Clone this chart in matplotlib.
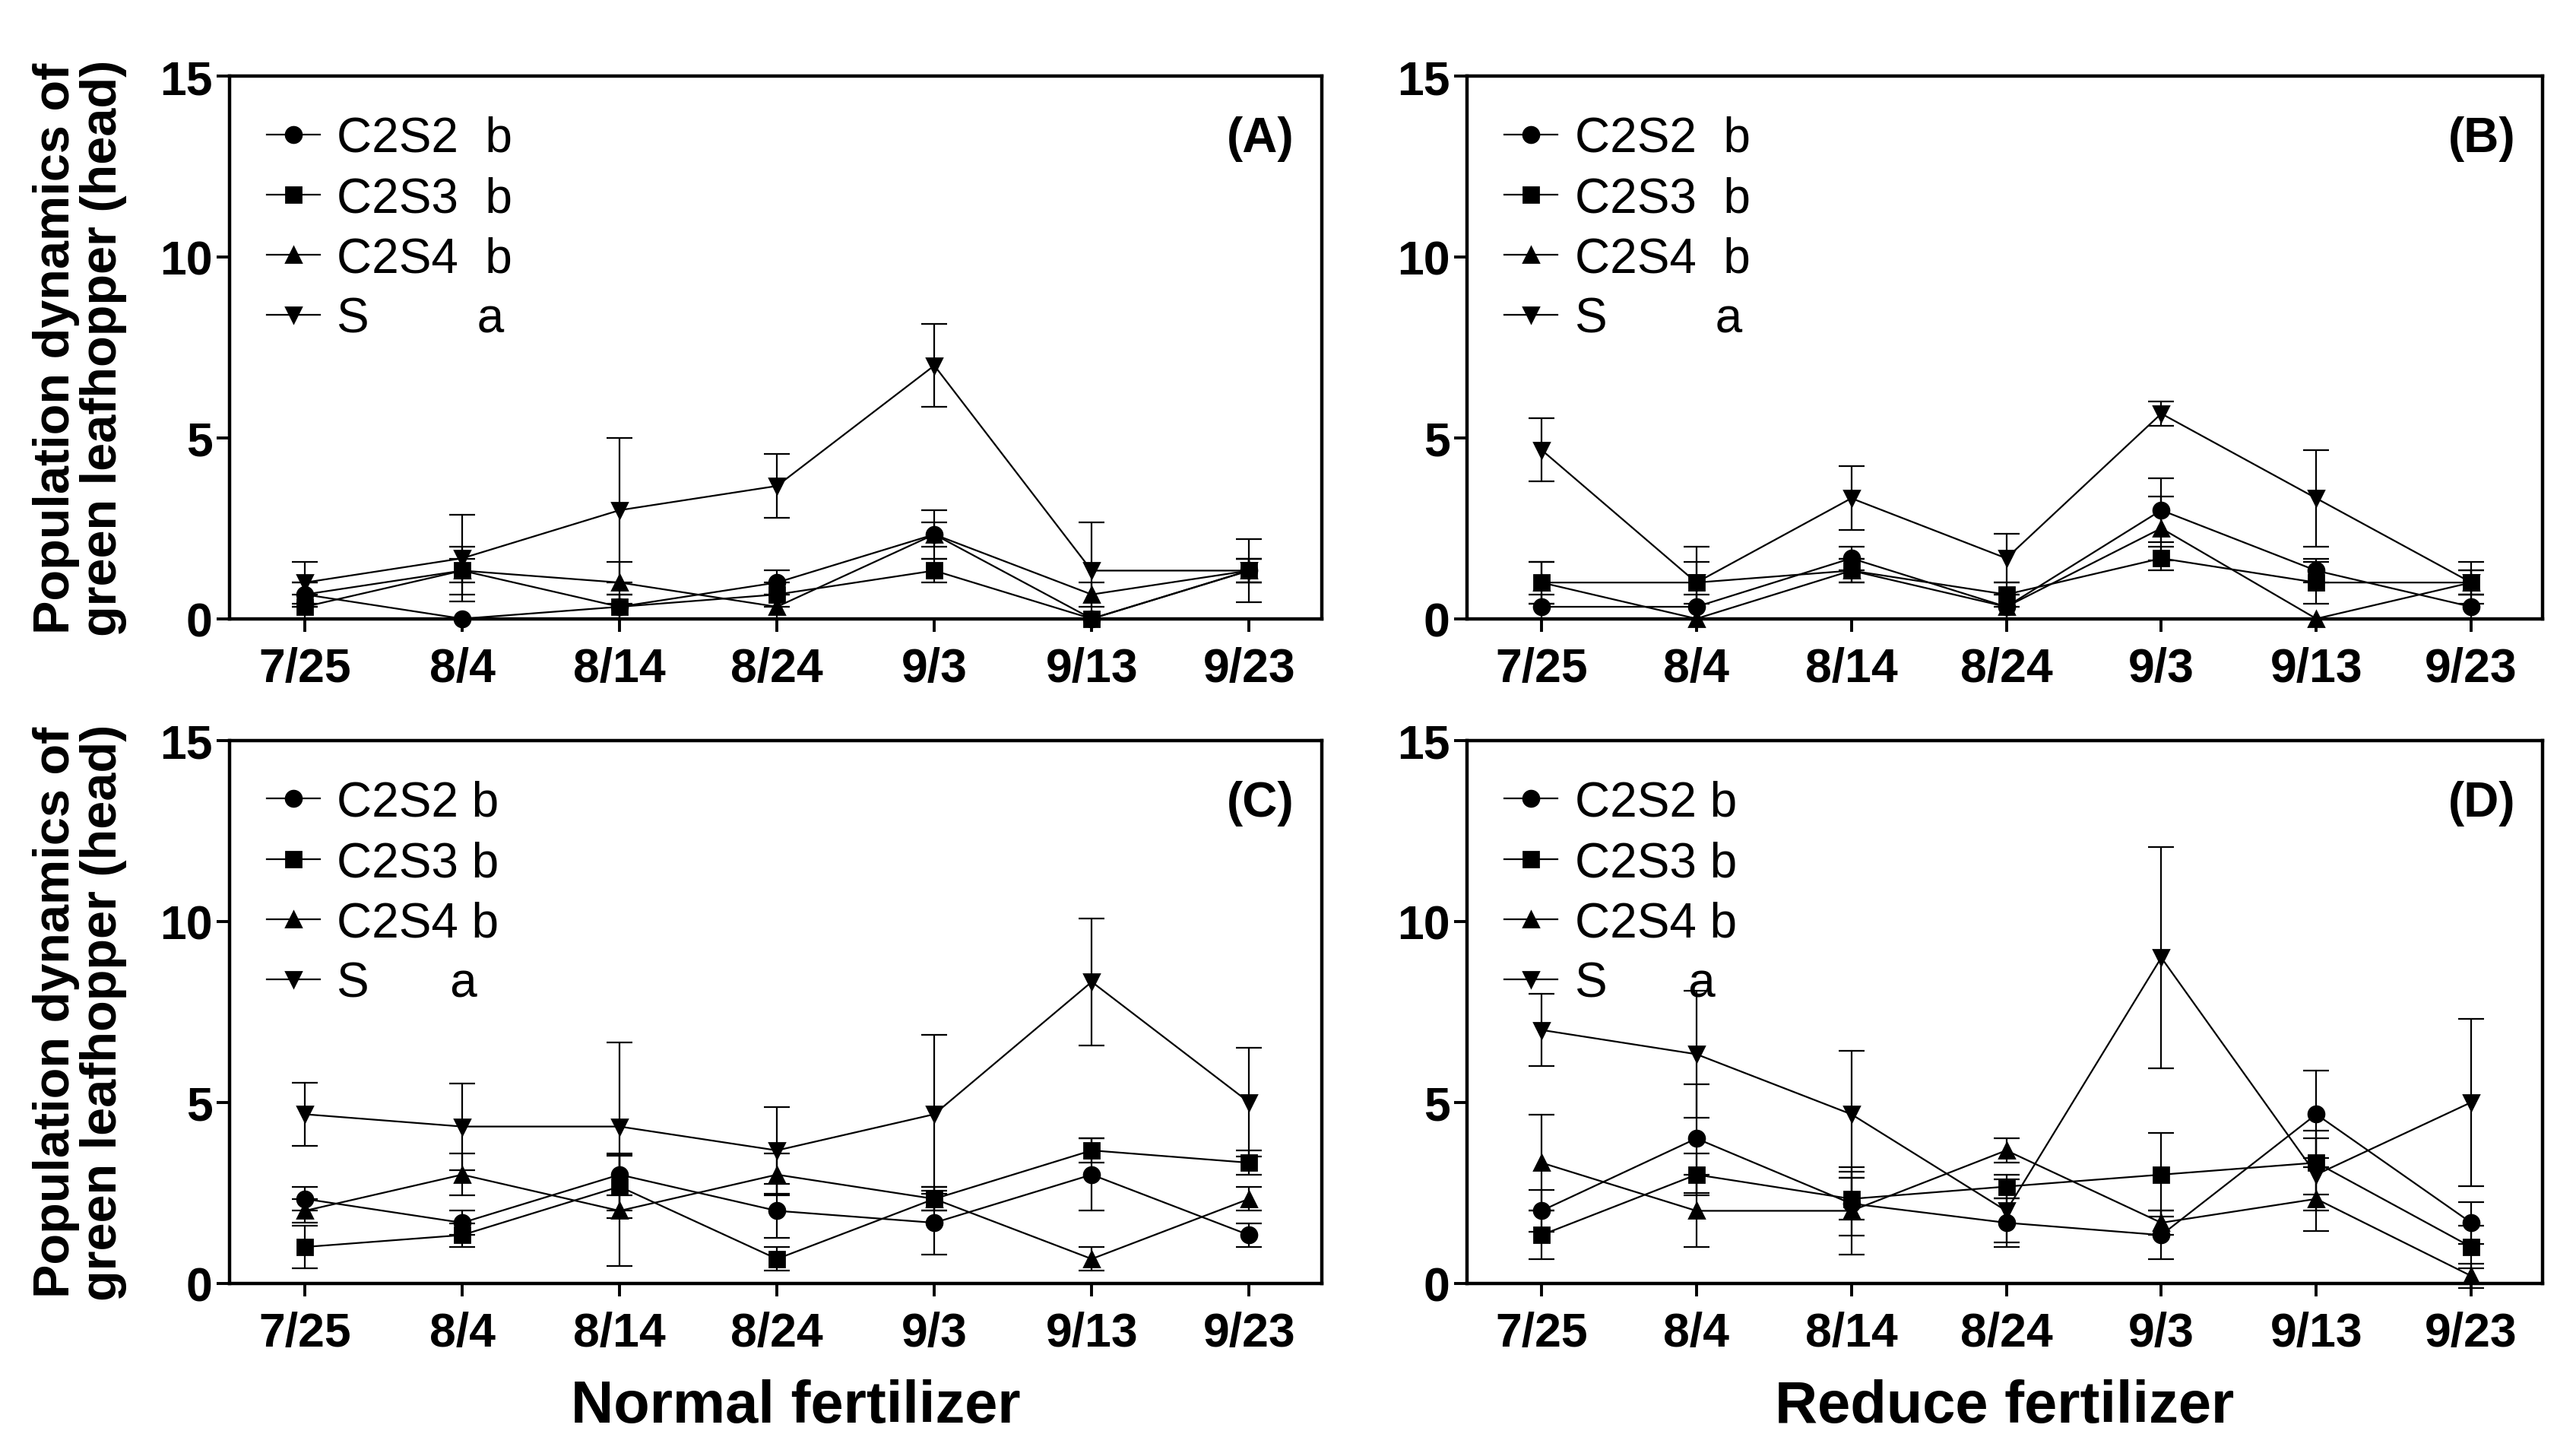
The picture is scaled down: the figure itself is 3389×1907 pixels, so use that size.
import matplotlib
matplotlib.use("Agg")
import matplotlib.pyplot as plt
from matplotlib.lines import Line2D

plt.rcParams['font.family'] = ['Liberation Sans', 'DejaVu Sans']

dates = ["7/25", "8/4", "8/14", "8/24", "9/3", "9/13", "9/23"]
series = ["C2S2", "C2S3", "C2S4", "S"]

# means and standard errors
mean_A = {"C2S2": [0.67, 0, 0.33, 1.0, 2.33, 0, 1.33],
          "C2S3": [0.33, 1.33, 0.33, 0.67, 1.33, 0, 1.33],
          "C2S4": [0.67, 1.33, 1.0, 0.33, 2.33, 0.67, 1.33],
          "S": [1.0, 1.67, 3.0, 3.67, 7.0, 1.33, 1.33]}
err_A = {"C2S2": [0.33, 0, 0.33, 0.33, 0.67, 0, 0.33],
         "C2S3": [0.33, 0.33, 0.33, 0.33, 0.33, 0, 0.33],
         "C2S4": [0.33, 0.67, 0.58, 0.33, 0.33, 0.33, 0.33],
         "S": [0.58, 1.2, 2.0, 0.88, 1.15, 1.33, 0.88]}

mean_B = {"C2S2": [0.33, 0.33, 1.67, 0.33, 3.0, 1.33, 0.33],
          "C2S3": [1.0, 1.0, 1.33, 0.67, 1.67, 1.0, 1.0],
          "C2S4": [1.0, 0, 1.33, 0.33, 2.5, 0, 1.0],
          "S": [4.67, 1.0, 3.33, 1.67, 5.67, 3.33, 1.0]}
err_B = {"C2S2": [0.33, 0.33, 0.33, 0.33, 0.88, 0.33, 0.33],
         "C2S3": [0.58, 0.58, 0.33, 0.33, 0.33, 0.58, 0.33],
         "C2S4": [0.58, 0, 0.33, 0.33, 0.88, 0, 0.33],
         "S": [0.88, 1.0, 0.88, 0.67, 0.33, 1.33, 0.58]}

mean_C = {"C2S2": [2.33, 1.67, 3.0, 2.0, 1.67, 3.0, 1.33],
          "C2S3": [1.0, 1.33, 2.67, 0.67, 2.33, 3.67, 3.33],
          "C2S4": [2.0, 3.0, 2.0, 3.0, 2.33, 0.67, 2.33],
          "S": [4.67, 4.33, 4.33, 3.67, 4.67, 8.33, 5.0]}
err_C = {"C2S2": [0.33, 0.33, 0.58, 0.75, 0.88, 1.0, 0.33],
         "C2S3": [0.58, 0.33, 0.88, 0.33, 0.33, 0.33, 0.33],
         "C2S4": [0.33, 0.58, 1.53, 0.58, 0.33, 0.33, 0.33],
         "S": [0.88, 1.2, 2.33, 1.2, 2.2, 1.76, 1.5]}

mean_D = {"C2S2": [2.0, 4.0, 2.2, 1.67, 1.33, 4.67, 1.67],
          "C2S3": [1.33, 3.0, 2.33, 2.67, 3.0, 3.33, 1.0],
          "C2S4": [3.33, 2.0, 2.0, 3.67, 1.67, 2.33, 0.2],
          "S": [7.0, 6.33, 4.67, 2.0, 9.0, 3.0, 5.0]}
err_D = {"C2S2": [0.58, 1.5, 0.88, 0.67, 0.67, 1.2, 0.58],
         "C2S3": [0.67, 0.58, 0.58, 0.33, 1.15, 0.88, 0.58],
         "C2S4": [1.33, 1.0, 1.2, 0.33, 0.33, 0.88, 0.33],
         "S": [1.0, 1.76, 1.76, 0.88, 3.06, 1.0, 2.31]}

labels_top = ["C2S2  b", "C2S3  b", "C2S4  b", "S        a"]
labels_bottom = ["C2S2 b", "C2S3 b", "C2S4 b", "S      a"]
markers = {"C2S2": "o", "C2S3": "s", "C2S4": "^", "S": "v"}

fig = plt.figure(figsize=(16.945, 9.54), dpi=200)

panels = [
    ("(A)", mean_A, err_A, labels_top, [0.089, 0.573, 0.424, 0.374]),
    ("(B)", mean_B, err_B, labels_top, [0.5695, 0.573, 0.4175, 0.374]),
    ("(C)", mean_C, err_C, labels_bottom, [0.089, 0.115, 0.424, 0.374]),
    ("(D)", mean_D, err_D, labels_bottom, [0.5695, 0.115, 0.4175, 0.374]),
]

x = list(range(len(dates)))
for tag, means, errs, labels, rect in panels:
    ax = fig.add_axes(rect)
    handles = []
    for name in series:
        ax.errorbar(x, means[name], yerr=errs[name], color="black",
                    marker=markers[name], markersize=7.5, linewidth=0.8,
                    elinewidth=0.8, capsize=6, capthick=0.8, clip_on=False)
        handles.append(Line2D([], [], color="black", marker=markers[name],
                              markersize=7.5, linewidth=0.8))
    ax.set_xlim(-0.48, 6.46)
    ax.set_ylim(0, 15)
    ax.set_yticks([0, 5, 10, 15])
    ax.set_xticks(x)
    ax.set_xticklabels(dates)
    ax.tick_params(axis="both", direction="out", length=6, width=1.4,
                   labelsize=22.5)
    ax.tick_params(axis="x", pad=7)
    ax.tick_params(axis="y", pad=2)
    for lab in ax.get_xticklabels() + ax.get_yticklabels():
        lab.set_fontweight("bold")
    for sp in ax.spines.values():
        sp.set_linewidth(1.6)
    ax.legend(handles, labels, loc="upper left", frameon=False,
              fontsize=23, handlelength=1.1, handletextpad=0.35,
              labelspacing=0.3, borderaxespad=0.3,
              bbox_to_anchor=(0.003, 0.99))
    ax.text(0.975, 0.885, tag, transform=ax.transAxes, ha="right",
            va="center", fontsize=23, fontweight="bold")

ylab = "Population dynamics of\ngreen leafhopper (head)"
fig.text(0.031, 0.573 + 0.374 / 2, ylab, rotation=90, ha="center",
         va="center", fontsize=24, fontweight="bold", multialignment="center",
         linespacing=1.0)
fig.text(0.031, 0.115 + 0.374 / 2, ylab, rotation=90, ha="center",
         va="center", fontsize=24, fontweight="bold", multialignment="center",
         linespacing=1.0)
fig.text(0.089 + 0.424 / 2 + 0.008, 0.03, "Normal fertilizer", ha="center",
         va="center", fontsize=28, fontweight="bold")
fig.text(0.5695 + 0.4175 / 2, 0.03, "Reduce fertilizer", ha="center",
         va="center", fontsize=28, fontweight="bold")

fig.savefig("out.png", dpi=200)
